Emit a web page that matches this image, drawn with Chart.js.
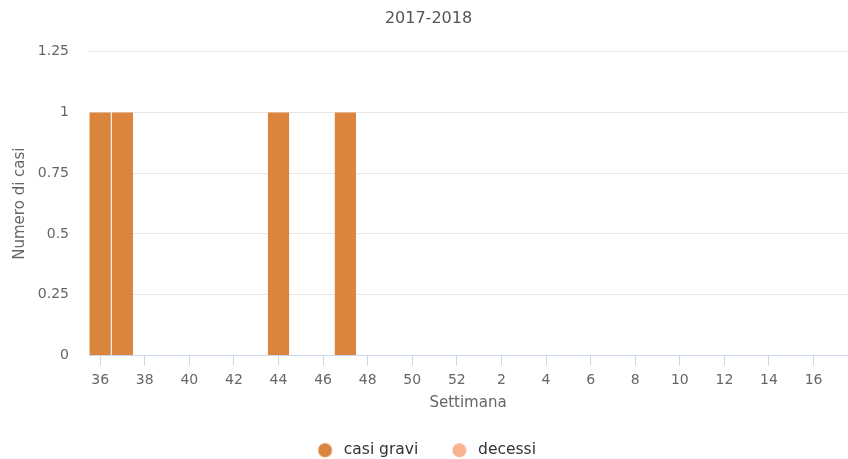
<!DOCTYPE html>
<html>
<head>
<meta charset="utf-8">
<script src="https://cdn.jsdelivr.net/npm/chart.js@4"></script>
<style>
  html, body { margin: 0; padding: 0; background: #fff; }
  #wrap { width: 848px; height: 459px; }
</style>
</head>
<body>
<div id="wrap"><canvas id="myChart" width="848" height="459"></canvas></div>
<script>
// settimane della stagione 2017-2018
var weeks = ['36','37','38','39','40','41','42','43','44','45','46','47','48','49','50','51','52',
             '1','2','3','4','5','6','7','8','9','10','11','12','13','14','15','16','17'];
var casiGravi = [1,1,0,0,0,0,0,0,1,0,0,1,0,0,0,0,0,
                 0,0,0,0,0,0,0,0,0,0,0,0,0,0,0,0,0];
var decessi = [0,0,0,0,0,0,0,0,0,0,0,0,0,0,0,0,0,
               0,0,0,0,0,0,0,0,0,0,0,0,0,0,0,0,0];
var yTicks = [0, 0.25, 0.5, 0.75, 1, 1.25];
var colori = ['#DB843D', '#F7B38F'];

Chart.defaults.font.family = 'DejaVu Sans';

// pallino della legenda, spostato a sinistra per lasciare spazio al testo
function pallino(colore) {
    var c = document.createElement('canvas');
    c.width = 22; c.height = 16;
    var g = c.getContext('2d');
    g.fillStyle = colore;
    g.beginPath();
    g.arc(7.5, 8, 7, 0, Math.PI * 2);
    g.fill();
    return c;
}

var ctx = document.getElementById('myChart').getContext('2d');
var myChart = new Chart(ctx, {
    type: 'bar',
    data: {
        labels: weeks,
        datasets: [{
            label: 'casi gravi',
            data: casiGravi,
            backgroundColor: colori[0],
            pointStyle: pallino(colori[0]),
            borderWidth: 0,
            grouped: false,
            barPercentage: 1,
            categoryPercentage: 0.95
        }, {
            label: 'decessi',
            data: decessi,
            backgroundColor: colori[1],
            pointStyle: pallino(colori[1]),
            borderWidth: 0,
            grouped: false,
            barPercentage: 1,
            categoryPercentage: 0.95
        }]
    },
    options: {
        responsive: false,
        animation: false,
        layout: { padding: { left: 10, right: 1, top: 0, bottom: -9 } },
        plugins: {
            title: {
                display: true,
                text: '2017-2018',
                color: '#555',
                font: { size: 16, weight: 'normal' },
                padding: { top: 9, bottom: 23.5 }
            },
            legend: {
                position: 'bottom',
                labels: {
                    usePointStyle: true,
                    boxWidth: 15,
                    boxHeight: 15,
                    color: '#333',
                    font: { size: 15.5 },
                    padding: 37
                }
            },
            tooltip: { enabled: false }
        },
        scales: {
            x: {
                offset: true,
                grid: {
                    offset: false,
                    drawOnChartArea: false,
                    drawTicks: true,
                    tickLength: 10,
                    color: function (c) { return c.index % 2 === 0 ? '#ccd6eb' : 'rgba(0,0,0,0)'; }
                },
                border: { display: true, color: '#ccd6eb', width: 1 },
                ticks: {
                    autoSkip: false,
                    maxRotation: 0,
                    color: '#666',
                    font: { size: 14 },
                    padding: 6,
                    callback: function (v, i) { return i % 2 === 0 ? this.getLabelForValue(v) : ''; }
                },
                title: {
                    display: true,
                    text: 'Settimana',
                    color: '#666',
                    font: { size: 15 },
                    padding: { top: 0, bottom: -7 }
                },
                afterFit: function (s) { s.height = 50; }
            },
            y: {
                min: 0,
                max: 1.25,
                afterBuildTicks: function (s) {
                    s.ticks = yTicks.map(function (v) { return { value: v }; });
                },
                grid: { color: '#e6e6e6', drawTicks: false },
                border: { display: false },
                ticks: {
                    color: '#666',
                    font: { size: 14 },
                    padding: 20,
                    callback: function (v) { return String(v); }
                },
                title: {
                    display: true,
                    text: 'Numero di casi',
                    color: '#666',
                    font: { size: 15 },
                    padding: { top: 1.5, bottom: 0 }
                },
                afterFit: function (s) { s.width = 79; }
            }
        }
    }
});
</script>
</body>
</html>
